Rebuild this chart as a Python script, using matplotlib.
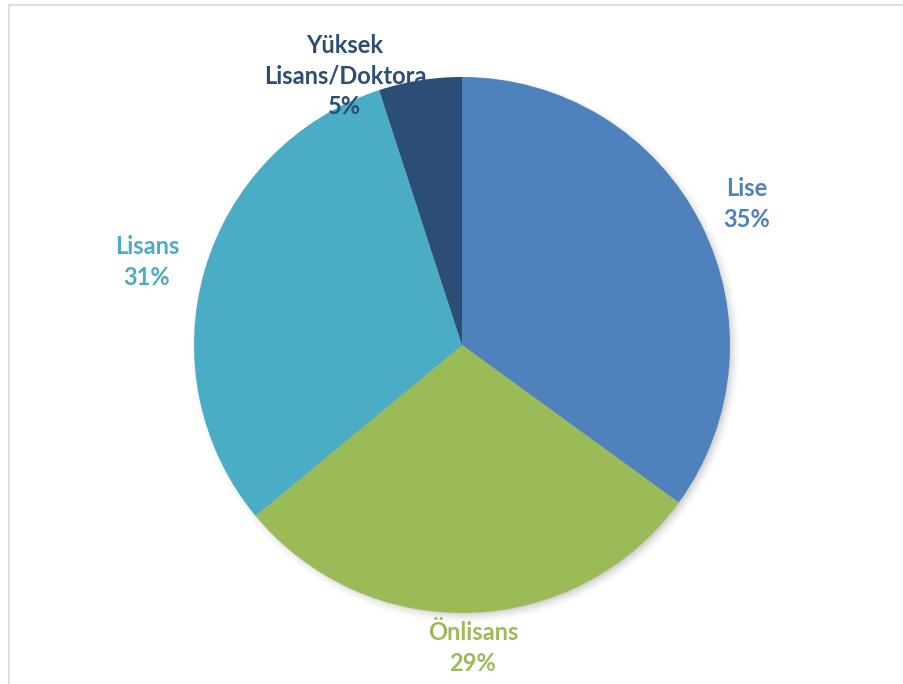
import numpy as np
import matplotlib
matplotlib.use("Agg")
import matplotlib.pyplot as plt
from matplotlib.patches import Rectangle

labels = ["Lise", "Önlisans", "Lisans", "Yüksek\nLisans/Doktora"]
shares = [35, 29, 31, 5]
colors = ["#4F81BD", "#9BBB59", "#4BACC6", "#2C4D75"]
label_xy = [(747, 204), (473, 648), (147, 262), (345, 76)]

W, H = 904, 684
cx, cy, r = 462, H - 345, 268

plt.rcParams["font.family"] = ["Lato", "DejaVu Sans"]

fig = plt.figure(figsize=(W / 100, H / 100), dpi=100)
ax = fig.add_axes([0, 0, 1, 1])

# chart area frame
ax.add_patch(Rectangle((9, -10), W + 20, H - 5 + 10, fill=False,
                       edgecolor="#D9D9D9", linewidth=1.2, zorder=0))

# soft drop shadow under the pie
yy, xx = np.mgrid[0:H, 0:W]
d = np.hypot(xx - (cx + 3), (H - 1 - yy) - (cy - 4))
a = np.clip((r + 9 - d) / 18, 0, 1) ** 2 * 0.35
shadow = np.zeros((H, W, 4))
shadow[..., 3] = a
ax.imshow(shadow, extent=(0, W, 0, H), origin="upper", zorder=1,
          interpolation="bilinear")

ax.pie(shares, colors=colors, startangle=90, counterclock=False,
       center=(cx, cy), radius=r, frame=True,
       wedgeprops=dict(linewidth=0, zorder=2))
ax.set_xlim(0, W)
ax.set_ylim(0, H)
ax.set_aspect("equal")
ax.axis("off")

for lab, v, col, (x, y) in zip(labels, shares, colors, label_xy):
    ax.text(x, H - y, f"{lab}\n{v}%", color=col, fontsize=17,
            fontweight="bold", ha="center", va="center",
            linespacing=1.4, zorder=5)

fig.savefig("out.png", dpi=100)
